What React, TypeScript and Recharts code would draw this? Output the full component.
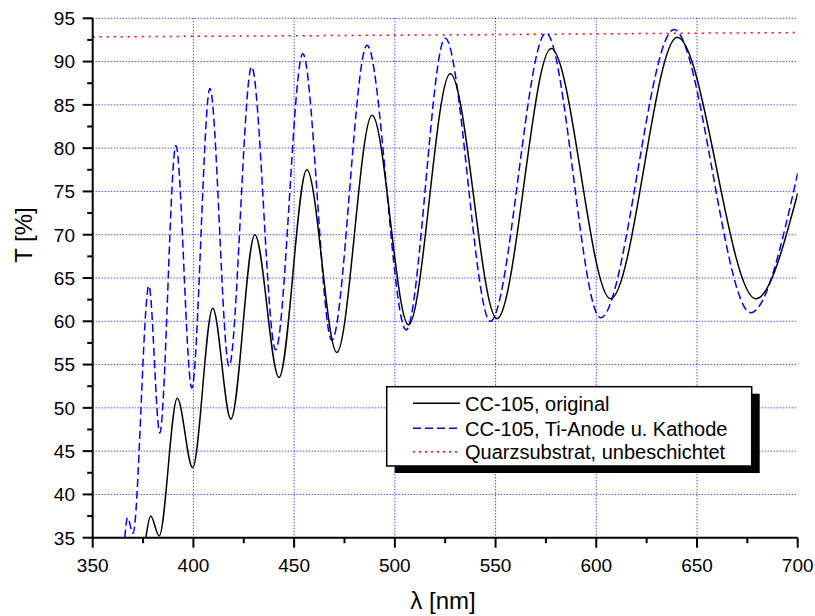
import React from 'react';
import { LineChart, Line, XAxis, YAxis, CartesianGrid } from 'recharts';

const seriesNames = ['CC-105, original', 'CC-105, Ti-Anode u. Kathode', 'Quarzsubstrat, unbeschichtet'];

const originalWl = [376.4, 378.8, 383.0, 392.0, 399.6, 409.6, 418.6, 430.5, 442.5, 456.3, 471.2, 488.7, 506.8, 527.5, 550.7, 577.6, 607.1, 640.2, 679.2, 700];
const originalT = [35.0, 37.5, 35.2, 51.1, 43.1, 61.5, 48.7, 70.0, 53.5, 77.5, 56.4, 83.8, 59.6, 88.6, 60.3, 91.5, 62.6, 92.8, 62.6, 74.8];

const tiWl = [365.9, 367.3, 370.0, 377.9, 383.3, 391.3, 399.2, 408.2, 417.7, 428.9, 440.8, 454.3, 468.7, 486.2, 505.6, 525.0, 547.4, 575.1, 602.1, 638.6, 676.7, 700];
const tiT = [35.0, 37.3, 35.5, 64.1, 47.1, 80.3, 52.3, 86.9, 54.8, 89.4, 56.7, 90.9, 57.8, 91.9, 59.0, 92.7, 60.0, 93.3, 60.4, 93.7, 61.0, 77.1];

const quarzWl = [350, 400, 450, 500, 550, 600, 650, 700];
const quarzT = [92.85, 92.92, 92.98, 93.05, 93.12, 93.2, 93.28, 93.35];

const xTicks = [350, 375, 400, 425, 450, 475, 500, 525, 550, 575, 600, 625, 650, 675, 700];
const xMajor = [350, 400, 450, 500, 550, 600, 650, 700];
const yTicks = [35, 37.5, 40, 42.5, 45, 47.5, 50, 52.5, 55, 57.5, 60, 62.5, 65, 67.5, 70, 72.5, 75, 77.5, 80, 82.5, 85, 87.5, 90, 92.5, 95];
const yMajor = [35, 40, 45, 50, 55, 60, 65, 70, 75, 80, 85, 90, 95];
const xGrid = [400, 450, 500, 550, 600, 650];
const yGrid = [40, 45, 50, 55, 60, 65, 70, 75, 80, 85, 90, 95];

const zip = (wl: number[], t: number[]) => wl.map((w, i) => ({ wl: w, t: t[i] }));
const originalData = zip(originalWl, originalT);
const tiData = zip(tiWl, tiT);
const quarzData = zip(quarzWl, quarzT);

const FONT = '"Liberation Sans", Arial, sans-serif';

const XTick = (props: any) => {
  const { x, y, payload } = props;
  const major = xMajor.includes(payload.value);
  return (
    <g>
      <line x1={x} x2={x} y1={y} y2={y + (major ? 10 : 5.5)} stroke="#000" strokeWidth={2} />
      {major && (
        <text x={x} y={y + 34} textAnchor="middle" fontSize={19} fontFamily={FONT} fill="#000">
          {payload.value}
        </text>
      )}
    </g>
  );
};

const YTick = (props: any) => {
  const { x, y, payload } = props;
  const major = yMajor.includes(payload.value);
  return (
    <g>
      <line x1={x - (major ? 10 : 5.5)} x2={x} y1={y} y2={y} stroke="#000" strokeWidth={2} />
      {major && (
        <text x={x - 17.7} y={y + 6.8} textAnchor="end" fontSize={19} fontFamily={FONT} fill="#000">
          {payload.value}
        </text>
      )}
    </g>
  );
};

const legendStyles = [
  { stroke: '#000000', dash: undefined as string | undefined },
  { stroke: '#0000ff', dash: '8 4' },
  { stroke: '#ff0000', dash: '2 4' },
];

export default function App() {
  return (
    <div style={{ position: 'fixed', left: 0, top: 0, width: 815, height: 616, background: '#fff' }}>
      <LineChart
        width={815}
        height={616}
        margin={{ top: 18.3, right: 17.3, left: 0, bottom: 0 }}
      >
        <CartesianGrid
          stroke="#0000ff"
          strokeDasharray="1 2"
          horizontalValues={yGrid}
          verticalValues={xGrid}
        />
        <XAxis
          type="number"
          dataKey="wl"
          domain={[350, 700]}
          ticks={xTicks}
          interval={0}
          allowDataOverflow
          height={78.3}
          tickSize={0}
          tickMargin={0}
          tickLine={false}
          axisLine={{ stroke: '#000', strokeWidth: 2 }}
          tick={<XTick />}
        />
        <YAxis
          type="number"
          domain={[35, 95]}
          ticks={yTicks}
          interval={0}
          allowDataOverflow
          width={92.7}
          tickSize={0}
          tickMargin={0}
          tickLine={false}
          axisLine={{ stroke: '#000', strokeWidth: 2 }}
          tick={<YTick />}
        />
        <Line data={quarzData} dataKey="t" name={seriesNames[2]} type="monotone" stroke="#ff0000" strokeWidth={1.5} strokeDasharray="2 5" dot={false} isAnimationActive={false} />
        <Line data={tiData} dataKey="t" name={seriesNames[1]} type="monotone" stroke="#0000ff" strokeWidth={1.5} strokeDasharray="8 4" dot={false} isAnimationActive={false} />
        <Line data={originalData} dataKey="t" name={seriesNames[0]} type="monotone" stroke="#000000" strokeWidth={1.5} dot={false} isAnimationActive={false} />
      </LineChart>
      <svg
        width={815}
        height={616}
        style={{ position: 'absolute', left: 0, top: 0, pointerEvents: 'none' }}
      >
        <text x={443} y={609.3} textAnchor="middle" fontSize={24} fontFamily={FONT} fill="#000">λ [nm]</text>
        <text transform="translate(31.7,235) rotate(-90)" x={0} y={0} textAnchor="middle" fontSize={24} fontFamily={FONT} fill="#000">T [%]</text>
        <rect x={394.7} y={393.7} width={365} height={79.3} fill="#000" />
        <rect x={386.7} y={386.7} width={365} height={79.3} fill="#fff" stroke="#000" strokeWidth={1.5} />
        {seriesNames.map((n, i) => {
          const ly = [403.3, 428.3, 451.7][i];
          const ty = [410.7, 435.7, 459.3][i];
          return (
            <g key={n}>
              <line x1={413} x2={460} y1={ly} y2={ly} stroke={legendStyles[i].stroke} strokeWidth={1.5} strokeDasharray={legendStyles[i].dash} />
              <text x={465} y={ty} fontSize={20} fontFamily={FONT} fill="#000">{n}</text>
            </g>
          );
        })}
      </svg>
    </div>
  );
}
